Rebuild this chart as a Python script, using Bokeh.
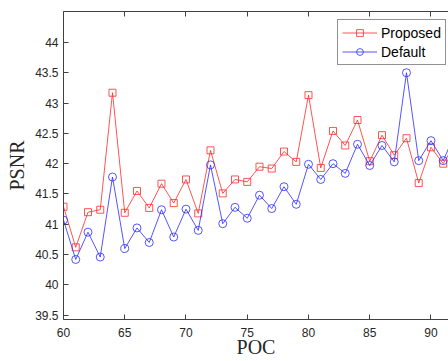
from bokeh.plotting import figure
from bokeh.models import (LinearAxis, FixedTicker, Legend, LegendItem, Range1d,
                          ColumnDataSource)
from bokeh.embed import file_html
from bokeh.resources import INLINE

# ---- data ----
poc = [60, 61, 62, 63, 64, 65, 66, 67, 68, 69, 70, 71, 72, 73, 74, 75, 76,
       77, 78, 79, 80, 81, 82, 83, 84, 85, 86, 87, 88, 89, 90, 91, 92]
proposed = [41.29, 40.62, 41.20, 41.24, 43.17, 41.19, 41.55, 41.27, 41.67, 41.35,
            41.74, 41.18, 42.22, 41.51, 41.74, 41.70, 41.95, 41.92, 42.20, 42.03,
            43.13, 41.93, 42.54, 42.30, 42.72, 42.04, 42.47, 42.14, 42.42, 41.68,
            42.27, 42.00, 42.35]
default = [41.07, 40.42, 40.87, 40.46, 41.78, 40.60, 40.94, 40.70, 41.24, 40.79,
           41.25, 40.90, 41.98, 41.01, 41.28, 41.10, 41.48, 41.26, 41.62, 41.33,
           41.99, 41.74, 42.00, 41.84, 42.32, 41.97, 42.30, 42.03, 43.50, 42.05,
           42.38, 42.05, 42.51]
x_ticks = [60, 65, 70, 75, 80, 85, 90, 95]
y_ticks = [39.5, 40, 40.5, 41, 41.5, 42, 42.5, 43, 43.5, 44]
series_names = ["Proposed", "Default"]
x_title = "POC"
y_title = "PSNR"

AX = "#404040"
TXT = "#262626"
SANS = "Liberation Sans"
SERIF = "Liberation Serif"

p = figure(width=448, height=361, output_backend="svg", toolbar_location=None,
           x_range=Range1d(60, 91.43), y_range=Range1d(39.43, 44.51),
           min_border_left=63, min_border_right=0, min_border_top=11,
           min_border_bottom=42, x_axis_label=x_title, y_axis_label=y_title)
p.outline_line_color = None
p.xgrid.visible = False
p.ygrid.visible = False
p.background_fill_color = "white"
p.border_fill_color = "white"

src = ColumnDataSource(dict(x=poc, p=proposed, d=default))
lr = p.line("x", "p", source=src, color="#ff2a2a", line_width=0.8)
mr = p.scatter("x", "p", source=src, marker="square", size=7, fill_color=None,
               line_color="#ff2a2a", line_width=0.8)
lb = p.line("x", "d", source=src, color="#2a2aff", line_width=0.8)
mb = p.scatter("x", "d", source=src, marker="circle", size=8, fill_color=None,
               line_color="#2a2aff", line_width=0.8)

def style_axis(ax, ticks, labels=True):
    ax.ticker = FixedTicker(ticks=ticks)
    ax.axis_line_color = AX
    ax.major_tick_line_color = AX
    ax.major_tick_in = 5
    ax.major_tick_out = 0
    ax.minor_tick_line_color = None
    ax.major_label_text_font = SANS
    ax.major_label_text_font_size = "12px"
    ax.major_label_text_color = TXT
    ax.major_label_overrides = {t: ("%g" % t) for t in ticks}
    if not labels:
        ax.major_label_text_color = None

xa = p.xaxis[0]
style_axis(xa, x_ticks)
xa.major_label_standoff = 8
xa.axis_label_text_font = SERIF
xa.axis_label_text_font_size = "20px"
xa.axis_label_text_font_style = "normal"
xa.axis_label_text_color = TXT
xa.axis_label_standoff = -4

ya = p.yaxis[0]
style_axis(ya, y_ticks)
ya.major_label_standoff = 5
ya.axis_label_text_font = SERIF
ya.axis_label_text_font_size = "20px"
ya.axis_label_text_font_style = "normal"
ya.axis_label_text_color = TXT
ya.axis_label_standoff = 4

top = LinearAxis()
style_axis(top, x_ticks, labels=False)
top.major_label_text_font_size = "0px"
top.major_label_standoff = 0
p.add_layout(top, "above")

legend = Legend(items=[LegendItem(label=series_names[0], renderers=[lr, mr]),
                       LegendItem(label=series_names[1], renderers=[lb, mb])],
                location=(274, 254), margin=0, padding=4, spacing=2,
                glyph_width=35, glyph_height=17, label_height=17,
                label_standoff=4, label_text_font=SANS,
                label_text_font_size="14px", label_text_color="black",
                border_line_color=TXT, border_line_width=1,
                background_fill_color="white", background_fill_alpha=1)
p.add_layout(legend, "center")

open("out.html", "w").write(file_html(p, INLINE))
